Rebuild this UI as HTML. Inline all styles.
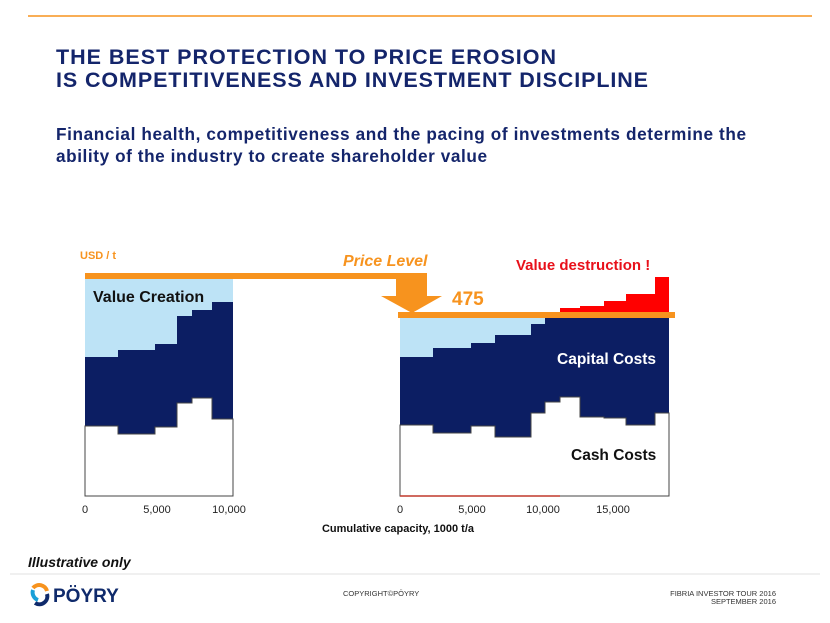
<!DOCTYPE html>
<html><head><meta charset="utf-8"><style>
html,body{margin:0;padding:0;background:#fff}
svg{display:block;font-family:"Liberation Sans",Arial,sans-serif}
</style></head><body>
<svg width="830" height="623" viewBox="0 0 830 623" xmlns="http://www.w3.org/2000/svg">
<rect width="830" height="623" fill="#fff"/>
<line x1="28" y1="16" x2="812" y2="16" stroke="#f7931e" stroke-width="1.5"/>
<g fill="#14256b" font-weight="bold">
<text x="56" y="64" font-size="21.5" textLength="500">THE BEST PROTECTION TO PRICE EROSION</text>
<text x="56" y="87" font-size="21.5" textLength="592">IS COMPETITIVENESS AND INVESTMENT DISCIPLINE</text>
<text x="56" y="140" font-size="17.2" textLength="690">Financial health, competitiveness and the pacing of investments determine the</text>
<text x="56" y="162" font-size="17.2" textLength="431">ability of the industry to create shareholder value</text>
</g>
<!-- left chart -->
<rect x="85" y="279" width="148" height="217" fill="#bde3f6"/>
<path d="M85 357H118V350H155V344H177V316H192V310H212V302H233V496H85Z" fill="#0c1e63"/>
<path d="M85 426H118V434H155V427H177V403H192V398H212V419H233V496H85Z" fill="#fff" stroke="#444" stroke-width="1"/>
<line x1="85" y1="496" x2="233" y2="496" stroke="#444"/>
<rect x="85" y="273" width="342" height="6" fill="#f7931e"/>
<text x="80" y="259" font-size="11" font-weight="bold" fill="#f7931e">USD / t</text>
<text x="93" y="302" font-size="16" font-weight="bold" fill="#111">Value Creation</text>
<!-- arrow -->
<path d="M396 279H427V296H442L412 313L381 296H396Z" fill="#f7931e"/>
<text x="343" y="266" font-size="16" font-weight="bold" font-style="italic" fill="#f7931e">Price Level</text>
<text x="452" y="305" font-size="19" font-weight="bold" fill="#f7931e">475</text>
<text x="516" y="270" font-size="15" font-weight="bold" fill="#e8101a">Value destruction !</text>
<!-- right chart -->
<path d="M560 312V308H580V306H604V301H626V294H655V277H669V312Z" fill="#f00"/>
<rect x="400" y="318" width="269" height="178" fill="#bde3f6"/>
<path d="M400 357H433V348H471V343H495V335H531V324H545V318H669V496H400Z" fill="#0c1e63"/>
<path d="M400 425H433V433H471V426H495V437H531V413H545V402H560V397H580V417H604V418H626V425H655V413H669V496H400Z" fill="#fff" stroke="#444" stroke-width="1"/>
<line x1="400" y1="496" x2="669" y2="496" stroke="#444"/>
<line x1="400" y1="496" x2="560" y2="496" stroke="#c0392b" stroke-width="1.5"/>
<rect x="398" y="312" width="277" height="6" fill="#f7931e"/>
<text x="557" y="364" font-size="15.5" font-weight="bold" fill="#fff">Capital Costs</text>
<text x="571" y="460" font-size="15.5" font-weight="bold" fill="#111">Cash Costs</text>
<g font-size="11" fill="#222" text-anchor="middle">
<text x="85" y="513">0</text><text x="157" y="513">5,000</text><text x="229" y="513">10,000</text>
<text x="400" y="513">0</text><text x="472" y="513">5,000</text><text x="543" y="513">10,000</text><text x="613" y="513">15,000</text>
</g>
<text x="398" y="532" font-size="11" font-weight="bold" fill="#111" text-anchor="middle">Cumulative capacity, 1000 t/a</text>
<text x="28" y="567" font-size="14" font-weight="bold" font-style="italic" fill="#111">Illustrative only</text>
<line x1="10" y1="574" x2="820" y2="574" stroke="#e2e2e2" stroke-width="1"/>
<!-- logo -->
<path d="M33 588a8 8 0 0 1 14 3" fill="none" stroke="#f7931e" stroke-width="4"/>
<path d="M33 590a8 8 0 0 0 5 10" fill="none" stroke="#1aa0d8" stroke-width="4"/>
<path d="M47 594a8 8 0 0 1 -12 9" fill="none" stroke="#0f2a6b" stroke-width="4"/>
<text x="53" y="602" font-size="19" font-weight="bold" fill="#0f2a6b">PÖYRY</text>
<text x="343" y="596" font-size="7.5" fill="#333">COPYRIGHT©PÖYRY</text>
<text x="776" y="596" font-size="7.5" fill="#333" text-anchor="end">FIBRIA INVESTOR TOUR 2016</text>
<text x="776" y="604" font-size="7.5" fill="#333" text-anchor="end">SEPTEMBER 2016</text>
</svg>
</body></html>
